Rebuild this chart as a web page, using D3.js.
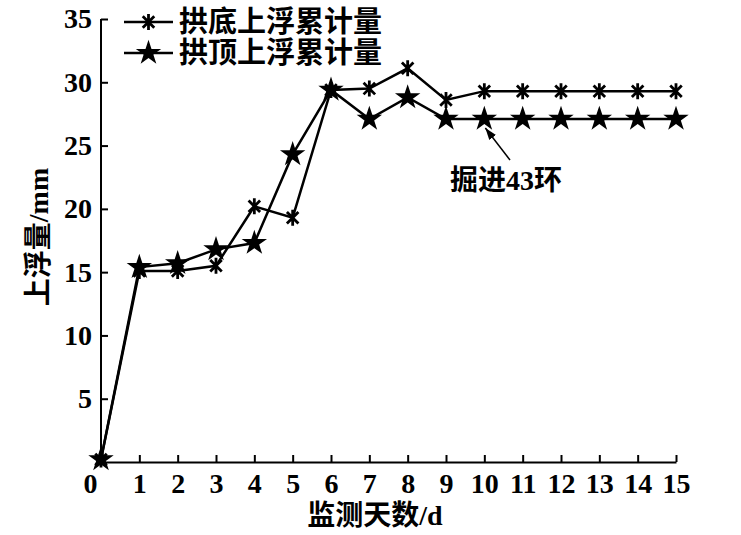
<!DOCTYPE html>
<html>
<head>
<meta charset="utf-8">
<script src="https://cdn.jsdelivr.net/npm/d3@7"></script>
<style>
  body { margin: 0; background: #fff; }
  text { font-family: "Liberation Serif", "Noto Sans CJK SC", serif; fill: #000; font-weight: bold; }
</style>
</head>
<body>
<div id="chart"></div>
<script>
// width and height
var w = 741;
var h = 535;

// data
var days = [0, 1, 2, 3, 4, 5, 6, 7, 8, 9, 10, 11, 12, 13, 14, 15];
var gongDi = [0.2, 15.1, 15.1, 15.5, 20.2, 19.3, 29.4, 29.5, 31.1, 28.6, 29.3, 29.3, 29.3, 29.3, 29.3, 29.3];
var gongDing = [0.2, 15.4, 15.7, 16.8, 17.3, 24.3, 29.4, 27.1, 28.8, 27.1, 27.1, 27.1, 27.1, 27.1, 27.1, 27.1];
var seriesNames = ["拱底上浮累计量", "拱顶上浮累计量"];
var yTicks = [5, 10, 15, 20, 25, 30, 35];
var noteText = "掘进43环";
var noteDay = 10, noteValue = 27.1;

var margin = {left: 101, right: 65, top: 19, bottom: 73};

var xScale = d3.scaleLinear().domain([0, 15]).range([margin.left, w - margin.right]);
var yScale = d3.scaleLinear().domain([0, 35]).range([h - margin.bottom, margin.top]);

var svg = d3.select("#chart").append("svg")
  .attr("width", w)
  .attr("height", h);

// axes
var xAxis = d3.axisBottom(xScale).tickValues(days).tickSize(-7).tickSizeOuter(0).tickPadding(11);
var yAxis = d3.axisLeft(yScale).tickValues(yTicks).tickSize(-7).tickSizeOuter(0).tickPadding(9);

var gx = svg.append("g")
  .attr("transform", "translate(0," + yScale(0) + ")")
  .call(xAxis);
var gy = svg.append("g")
  .attr("transform", "translate(" + margin.left + ",0)")
  .call(yAxis);

[gx, gy].forEach(function (g) {
  g.select(".domain").attr("stroke", "#000").attr("stroke-width", 2);
  g.selectAll(".tick line").attr("stroke", "#000").attr("stroke-width", 2);
  g.selectAll(".tick text").attr("font-size", "28px").attr("font-family", "Liberation Serif");
});
gx.selectAll(".tick").filter(function (d) { return d === 0; }).select("line").remove();
gx.selectAll(".tick").filter(function (d) { return d === 0; }).select("text").attr("dx", -11);
gy.select(".domain").attr("d", "M0," + yScale(0) + "V" + yScale(35));

// axis titles
svg.append("text")
  .attr("x", 375)
  .attr("y", 525)
  .attr("text-anchor", "middle")
  .attr("font-size", "28px")
  .attr("font-weight", 500)
  .text("监测天数/d");

svg.append("text")
  .attr("transform", "translate(48," + 237 + ") rotate(-90)")
  .attr("text-anchor", "middle")
  .attr("font-size", "28px")
  .attr("font-weight", 500)
  .text("上浮量/mm");

// markers
var asteriskPath = function (r) {
  var d = r * 0.72;
  return "M0," + (-r) + "V" + r + "M" + (-d) + "," + (-d) + "L" + d + "," + d + "M" + (-d) + "," + d + "L" + d + "," + (-d);
};
var starPath = d3.symbol().type(d3.symbolStar).size(200)();

var line = d3.line()
  .x(function (d, i) { return xScale(days[i]); })
  .y(function (d) { return yScale(d); });

// 拱底
svg.append("path")
  .attr("d", line(gongDi))
  .attr("fill", "none")
  .attr("stroke", "#000")
  .attr("stroke-width", 2.5);

svg.selectAll(".ast")
  .data(gongDi)
  .enter()
  .append("path")
  .attr("class", "ast")
  .attr("transform", function (d, i) { return "translate(" + xScale(days[i]) + "," + yScale(d) + ")"; })
  .attr("d", asteriskPath(8))
  .attr("fill", "none")
  .attr("stroke", "#000")
  .attr("stroke-width", 2.8);

// 拱顶
svg.append("path")
  .attr("d", line(gongDing))
  .attr("fill", "none")
  .attr("stroke", "#000")
  .attr("stroke-width", 2.5);

svg.selectAll(".star")
  .data(gongDing)
  .enter()
  .append("path")
  .attr("class", "star")
  .attr("transform", function (d, i) { return "translate(" + xScale(days[i]) + "," + yScale(d) + ")"; })
  .attr("d", starPath)
  .attr("fill", "#000");

// legend
var legend = svg.append("g");
seriesNames.forEach(function (name, i) {
  var ly = 22 + i * 31;
  legend.append("line")
    .attr("x1", 124).attr("x2", 173)
    .attr("y1", ly).attr("y2", ly)
    .attr("stroke", "#000").attr("stroke-width", 2.5);
  legend.append("path")
    .attr("transform", "translate(148.5," + ly + ")")
    .attr("d", i === 0 ? asteriskPath(8) : starPath)
    .attr("fill", i === 0 ? "none" : "#000")
    .attr("stroke", i === 0 ? "#000" : "none")
    .attr("stroke-width", 2.8);
  legend.append("text")
    .attr("x", 179)
    .attr("y", ly + 10)
    .attr("font-size", "29px")
    .attr("font-weight", 500)
    .text(name);
});

// annotation
svg.append("defs").append("marker")
  .attr("id", "arrow")
  .attr("viewBox", "0 0 10 10")
  .attr("refX", 10).attr("refY", 5)
  .attr("markerWidth", 8).attr("markerHeight", 8)
  .attr("orient", "auto")
  .append("path")
  .attr("d", "M0,1.5L10,5L0,8.5Z")
  .attr("fill", "#000");

svg.append("line")
  .attr("x1", 510).attr("y1", 160)
  .attr("x2", xScale(noteDay) + 1).attr("y2", yScale(noteValue) + 9)
  .attr("stroke", "#000").attr("stroke-width", 1.5)
  .attr("marker-end", "url(#arrow)");

svg.append("text")
  .attr("x", 450)
  .attr("y", 190)
  .attr("font-size", "28px")
  .attr("font-weight", 500)
  .text(noteText);
</script>
</body>
</html>
